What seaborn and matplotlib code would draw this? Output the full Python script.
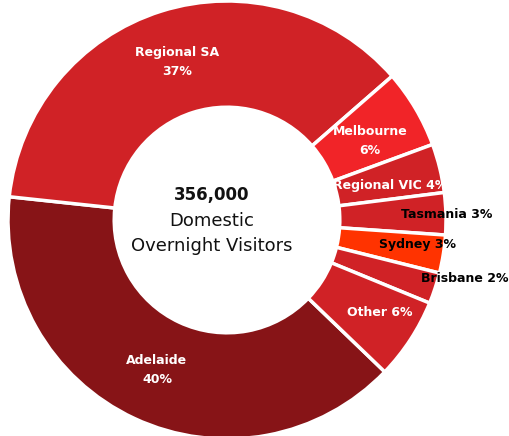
import matplotlib
matplotlib.use("Agg")
import matplotlib.pyplot as plt
import seaborn as sns

categories = ["Adelaide", "Regional SA", "Melbourne", "Regional VIC",
              "Tasmania", "Sydney", "Brisbane", "Other"]
shares = [39.5, 36.9, 5.8, 3.6, 3.1, 2.8, 2.3, 6.0]
pct_labels = ["40%", "37%", "6%", "4%", "3%", "3%", "2%", "6%"]
total_label = "356,000"
center_lines = ["Domestic", "Overnight Visitors"]

sns.set_style("white")
plt.rcParams['font.family'] = ['DejaVu Sans']

palette = sns.color_palette(["#871417", "#D02226", "#F12428", "#D02226",
                             "#D02226", "#FF3300", "#D02226", "#D02226"])

fig = plt.figure(figsize=(5.09, 4.36), dpi=100)
ax = fig.add_axes([0, 0, 1, 1])
wedges, _ = ax.pie(shares, colors=palette, startangle=316.1, counterclock=False,
                   radius=1.0,
                   wedgeprops=dict(width=0.485, edgecolor="white", linewidth=2.5))
ax.set_xlim(-227 / 219, 282 / 219)
ax.set_ylim(-216 / 219, 220 / 219)
ax.set_aspect("equal")
ax.axis("off")


def px(x, y):
    return ((x - 227) / 219, (220 - y) / 219)


label_specs = [
    (0, 157, 370, True, "white"),
    (1, 177, 62, True, "white"),
    (2, 370, 141, True, "white"),
    (3, 390, 185, False, "white"),
    (4, 447, 214, False, "black"),
    (5, 418, 244, False, "black"),
    (6, 465, 279, False, "black"),
    (7, 380, 313, False, "white"),
]
for idx, x, y, two, col in label_specs:
    if two:
        txt = f"{categories[idx]}\n{pct_labels[idx]}"
    else:
        txt = f"{categories[idx]} {pct_labels[idx]}"
    ax.text(*px(x, y), txt, ha="center", va="center", color=col,
            fontsize=9, fontweight="bold", linespacing=1.6)

ax.text(*px(212, 195), total_label, ha="center", va="center", fontsize=12,
        fontweight="bold", color="#111111")
ax.text(*px(212, 221), center_lines[0], ha="center", va="center",
        fontsize=13, color="#111111")
ax.text(*px(212, 246), center_lines[1], ha="center", va="center",
        fontsize=13, color="#111111")

fig.savefig("out.png", dpi=100)
